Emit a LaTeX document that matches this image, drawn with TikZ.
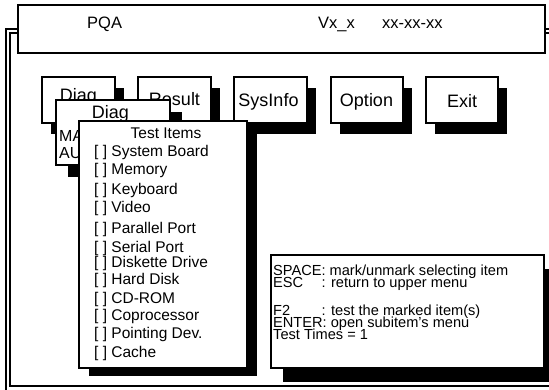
\documentclass[tikz,border=0pt]{standalone}
\usepackage{fontspec}
\setmainfont{Liberation Sans}
\usetikzlibrary{shadows,calc}
\newlength{\colw}
\begin{document}
\begin{tikzpicture}[x=1pt,y=-1pt,
  frameline/.style={line width=1.5pt},
  box/.style={draw, line width=1.6pt, fill=white, inner sep=0pt},
  shad/.style 2 args={drop shadow={shadow xshift=#1pt,shadow yshift=-#2pt,fill=black,opacity=1}},
  titletxt/.style={font=\fontsize{16.5}{18}\selectfont, inner sep=0pt, anchor=base west},
  btntxt/.style={font=\fontsize{18}{20}\selectfont, inner sep=0pt, anchor=base},
  itemtxt/.style={font=\fontsize{15.5}{17}\selectfont, inner sep=0pt, anchor=base west},
  helptxt/.style={font=\fontsize{14.6}{16}\selectfont, inner sep=0pt, anchor=base west, text height=9pt, text depth=1.5pt}]
\useasboundingbox (0,0) rectangle (549,389);
\clip (0,0) rectangle (549,389);
% double frame
\draw[frameline] (6,29) rectangle (600,420);
\draw[frameline] (10,33) rectangle (595,386);
% title bar
\node[box, minimum width=527pt, minimum height=48pt] (title) at (281.5,29) {};
\node[titletxt] (tpqa) at (87,28) {PQA};
\node[titletxt] (tver) at (318,28) {Vx\_x};
\node[titletxt] (tdate) at (382,28) {xx-xx-xx};
% menu buttons
\node[box, shad={9}{11}, minimum width=73pt, minimum height=46pt] (bdiag) at (78.5,100) {};
\node[box, shad={9}{11}, minimum width=73pt, minimum height=46pt] (bresult) at (174.5,100) {};
\node[box, shad={9}{11}, minimum width=73pt, minimum height=46pt] (bsys) at (270.5,100) {};
\node[box, shad={9}{11}, minimum width=72pt, minimum height=46pt] (bopt) at (367,100) {};
\node[box, shad={9}{11}, minimum width=72pt, minimum height=46pt] (bexit) at (462,100) {};
\node[btntxt] (tdiag) at (78.5,101) {Diag};
\node[btntxt] (tresult) at (174.5,105) {Result};
\node[btntxt] (tsys) at (268.5,106) {SysInfo};
\node[btntxt] (topt) at (366.5,106) {Option};
\node[btntxt] (texit) at (462,107) {Exit};
% Diag submenu
\node[box, shad={12}{12}, minimum width=114pt, minimum height=65pt] (diagmenu) at (113,132.5) {};
\node[btntxt] (tdiag2) at (110.5,118) {Diag};
\node[itemtxt, font=\fontsize{16}{18}\selectfont] (tma) at (59,141) {MA};
\node[itemtxt, font=\fontsize{16}{18}\selectfont] (tau) at (59,158) {AU};
% Test items menu
\node[box, shad={10}{8}, minimum width=168pt, minimum height=247pt] (items) at (163,244.5) {};
\node[itemtxt, anchor=base] (thead) at (166,138) {Test Items};
\node[itemtxt] (i1) at (94,156) {[ ] System Board};
\node[itemtxt] (i2) at (94,174) {[ ] Memory};
\node[itemtxt] (i3) at (94,194) {[ ] Keyboard};
\node[itemtxt] (i4) at (94,212) {[ ] Video};
\node[itemtxt] (i5) at (94,233) {[ ] Parallel Port};
\node[itemtxt] (i6) at (94,252) {[ ] Serial Port};
\node[itemtxt] (i7) at (94,267) {[ ] Diskette Drive};
\node[itemtxt] (i8) at (94,284) {[ ] Hard Disk};
\node[itemtxt] (i9) at (94,303) {[ ] CD-ROM};
\node[itemtxt] (i10) at (94,320) {[ ] Coprocessor};
\node[itemtxt] (i11) at (94,338) {[ ] Pointing Dev.};
\node[itemtxt] (i12) at (94,357) {[ ] Cache};
% help box
\node[box, shad={12}{14}, minimum width=273pt, minimum height=113pt] (help) at (407.5,311.5) {};
\node[helptxt] (h1) at (273,275) {SPACE: mark/unmark selecting item};
\node[helptxt] (h2) at (273,287) {\settowidth{\colw}{SPACE}\makebox[\colw][l]{ESC}: return to upper menu};
\node[helptxt] (h3) at (273,315) {\settowidth{\colw}{SPACE}\makebox[\colw][l]{F2}: test the marked item(s)};
\node[helptxt] (h4) at (273,327) {ENTER: open subitem's menu};
\node[helptxt] (h5) at (273,339) {Test Times = 1};
\end{tikzpicture}
\end{document}
